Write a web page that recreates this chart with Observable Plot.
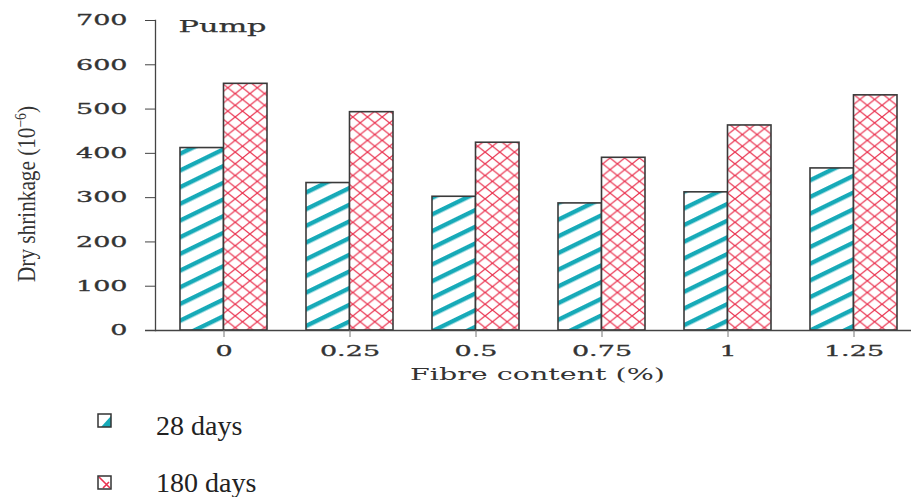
<!DOCTYPE html>
<html>
<head>
<meta charset="utf-8">
<script src="https://cdn.jsdelivr.net/npm/d3@7"></script>
<script src="https://cdn.jsdelivr.net/npm/@observablehq/plot@0.6"></script>
<style>
  html, body { margin: 0; padding: 0; background: #fff; }
  #wrap { position: relative; width: 911px; height: 497px; overflow: hidden; }
  #defs { position: absolute; width: 0; height: 0; }
</style>
</head>
<body>
<div id="wrap">
<svg id="defs" width="0" height="0">
  <defs>
    <pattern id="hatch28" patternUnits="userSpaceOnUse" width="10" height="15" patternTransform="rotate(-26)">
      <rect x="0" y="0" width="10" height="15" fill="#ffffff"></rect>
      <rect x="0" y="5" width="10" height="4.4" fill="#17aab8"></rect>
    </pattern>
    <pattern id="hatch180" patternUnits="userSpaceOnUse" width="14.7" height="11.7">
      <rect x="0" y="0" width="14.7" height="11.7" fill="#ffffff"></rect>
      <path d="M0,0L14.7,11.7M0,11.7L14.7,0" stroke="#ea3350" stroke-width="1.25" fill="none"></path>
    </pattern>
  </defs>
</svg>
</div>
<script>
const categories = ["0", "0.25", "0.5", "0.75", "1", "1.25"];
const days28 = [412, 333, 302, 287, 312, 366];
const days180 = [557, 493, 424, 390, 463, 531];
const yTicks = [0, 100, 200, 300, 400, 500, 600, 700];
const seriesLabels = ["28 days", "180 days"];
const panelTitle = "Pump";
const xLabel = "Fibre content (%)";

const data28 = categories.map((c, i) => ({fibre: c, value: days28[i]}));
const data180 = categories.map((c, i) => ({fibre: c, value: days180[i]}));

const half = 43.5;

const plot = Plot.plot({
  width: 911,
  height: 392,
  marginLeft: 155,
  marginRight: 0,
  marginTop: 20,
  marginBottom: 62,
  style: {fontFamily: "'DejaVu Serif'", fontSize: "15px", color: "#333", background: "transparent"},
  x: {domain: categories, range: [159, 918], paddingInner: 0.312, paddingOuter: 0.156},
  y: {domain: [0, 700]},
  marks: [
    Plot.barY(data28, {x: "fibre", y: "value", fill: "url(#hatch28)", stroke: "#3a3a3a", strokeWidth: 1.6, insetRight: half}),
    Plot.barY(data180, {x: "fibre", y: "value", fill: "url(#hatch180)", stroke: "#3a3a3a", strokeWidth: 1.6, insetLeft: half}),
    Plot.ruleY([0], {stroke: "#444", strokeWidth: 1.3, insetLeft: -10}),
    Plot.frame({anchor: "left", stroke: "#444", strokeWidth: 1.3}),
    Plot.axisY({ticks: yTicks, tickSize: 10, tickPadding: 18, label: null, stroke: "#444"}),
    Plot.axisX({tickSize: 7, tickPadding: 8, label: null, stroke: "#777"}),
    Plot.text([panelTitle], {frameAnchor: "top-left", text: d => d, dx: 23, dy: 6, lineAnchor: "middle", textAnchor: "start", fontSize: 16, fill: "#333"}),
    Plot.text([xLabel], {frameAnchor: "bottom", text: d => d, dx: 4, dy: 44, lineAnchor: "middle", textAnchor: "middle", fontSize: 17, fill: "#333"})
  ]
});

const wrap = document.getElementById("wrap");
plot.style.position = "absolute";
plot.style.left = "0px";
plot.style.top = "0px";
wrap.appendChild(plot);

const svg = d3.select(plot);
function stretchTo(node, target) {
  const len = node.getComputedTextLength();
  if (len > 0) {
    node.setAttribute("textLength", target);
    node.setAttribute("lengthAdjust", "spacingAndGlyphs");
  }
}
svg.selectAll('g[aria-label="y-axis tick label"] text, g[aria-label="x-axis tick label"] text').each(function() {
  stretchTo(this, this.getComputedTextLength() * 1.8);
  this.setAttribute("stroke", "#333");
  this.setAttribute("stroke-width", "0.3");
});
svg.selectAll("text").each(function() {
  if (this.textContent === panelTitle) { stretchTo(this, 88); this.setAttribute("stroke", "#333"); this.setAttribute("stroke-width", "0.25"); }
  if (this.textContent === xLabel) { stretchTo(this, 255); }
});

// Y axis label (with superscript)
const yl = svg.append("text")
  .attr("transform", "translate(35,194) rotate(-90)")
  .attr("text-anchor", "middle")
  .attr("font-family", "'Liberation Serif', serif")
  .attr("font-size", 25)
  .attr("fill", "#333")
  .attr("textLength", 176)
  .attr("lengthAdjust", "spacingAndGlyphs");
yl.append("tspan").text("Dry shrinkage (10");
yl.append("tspan").attr("dy", -9).attr("font-size", 16).text("\u22126");
yl.append("tspan").attr("dy", 9).text(")");

// Legend below the plot
const leg = d3.select(wrap).append("svg")
  .attr("width", 911).attr("height", 105)
  .style("position", "absolute").style("left", "0px").style("top", "392px");
// 28 days swatch
const s1 = leg.append("g").attr("transform", "translate(98,22)");
s1.append("rect").attr("width", 13).attr("height", 13).attr("fill", "#fff");
s1.append("path").attr("d", "M13,2L13,13L3,13Z").attr("fill", "#17aab8");
s1.append("rect").attr("width", 13).attr("height", 13).attr("fill", "none").attr("stroke", "#333").attr("stroke-width", 1.5);
leg.append("text").attr("x", 156).attr("y", 43)
  .attr("font-family", "'Liberation Serif', serif").attr("font-size", 28).attr("fill", "#222")
  .text(seriesLabels[0]);
// 180 days swatch
const s2 = leg.append("g").attr("transform", "translate(98,84)");
s2.append("rect").attr("width", 13).attr("height", 13).attr("fill", "#fff");
s2.append("path").attr("d", "M1,1L12,12M5,12L11,6").attr("stroke", "#ea3350").attr("stroke-width", 1.6).attr("fill", "none");
s2.append("rect").attr("width", 13).attr("height", 13).attr("fill", "none").attr("stroke", "#333").attr("stroke-width", 1.5);
leg.append("text").attr("x", 156).attr("y", 100)
  .attr("font-family", "'Liberation Serif', serif").attr("font-size", 28).attr("fill", "#222")
  .text(seriesLabels[1]);
</script>
</body>
</html>
